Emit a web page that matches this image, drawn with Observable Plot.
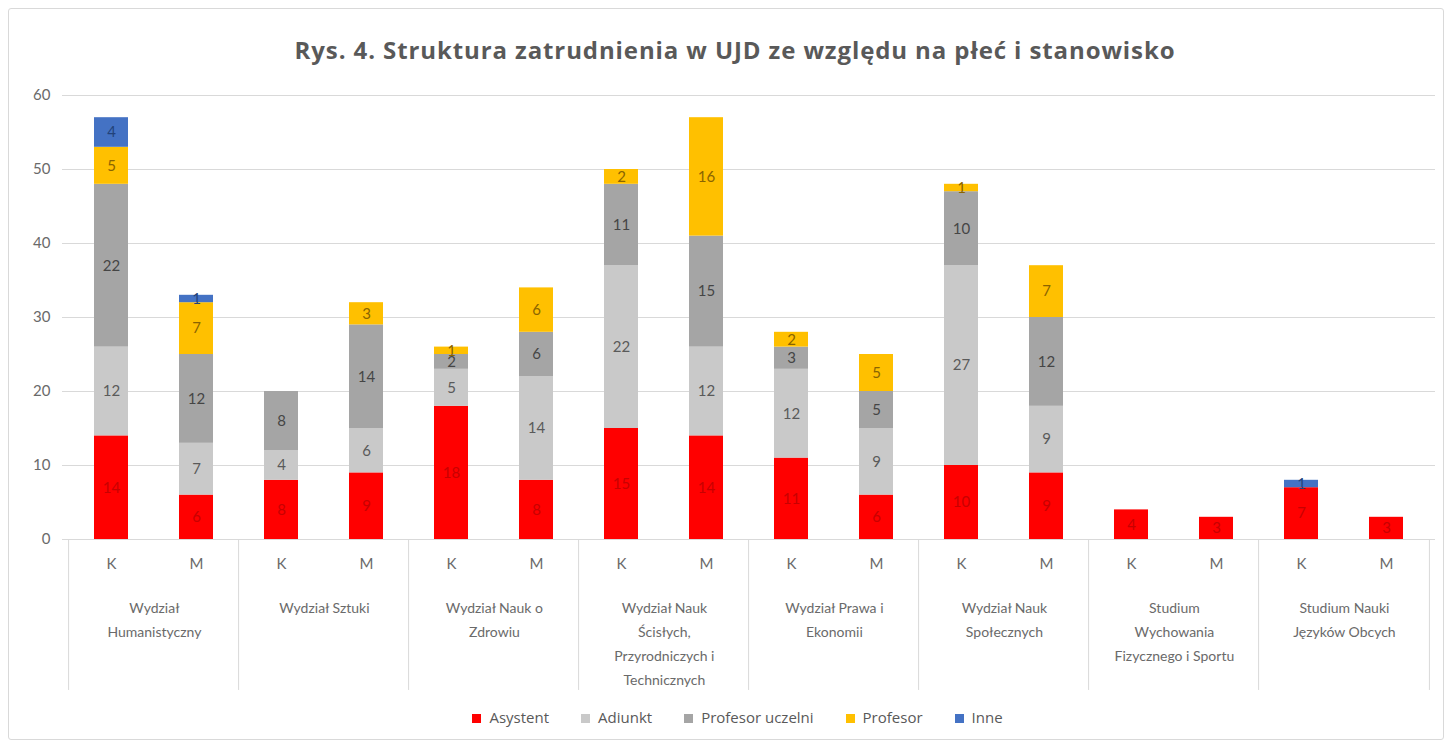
<!DOCTYPE html>
<html><head><meta charset="utf-8">
<script src="https://cdn.jsdelivr.net/npm/d3@7"></script>
<script src="https://cdn.jsdelivr.net/npm/@observablehq/plot@0.6"></script>
<style>
body{margin:0;background:#fff;font-family:Lato,"Open Sans",sans-serif;}
#frame{position:absolute;left:8px;top:8px;width:1434px;height:730px;border:1px solid #d9d9d9;border-radius:3px;}
#title{position:absolute;left:0;top:33px;width:1470px;text-align:center;font-family:"Open Sans",sans-serif;font-weight:bold;font-size:24px;letter-spacing:0.9px;color:#595959;}
#chart{position:absolute;left:0;top:0;}
#legend{position:absolute;left:0;top:707px;width:1475px;text-align:center;font-family:"Open Sans",sans-serif;font-size:15px;color:#595959;}
.item{display:inline-block;margin:0 16px;}
.sw{display:inline-block;width:9px;height:9px;margin-right:8px;}
</style></head><body>
<div id="frame"></div>
<div id="chart"></div>
<div id="title">Rys. 4. Struktura zatrudnienia w UJD ze względu na płeć i stanowisko</div>
<div id="legend"></div>
<script>
const faculties = [
  "Wydział\nHumanistyczny",
  "Wydział Sztuki",
  "Wydział Nauk o\nZdrowiu",
  "Wydział Nauk\nŚcisłych,\nPrzyrodniczych i\nTechnicznych",
  "Wydział Prawa i\nEkonomii",
  "Wydział Nauk\nSpołecznych",
  "Studium\nWychowania\nFizycznego i Sportu",
  "Studium Nauki\nJęzyków Obcych"
];
const sexes = ["K", "M"];
const roles = ["Asystent", "Adiunkt", "Profesor uczelni", "Profesor", "Inne"];
// values per bar: faculty order, K then M
const asystent = [14, 6, 8, 9, 18, 8, 15, 14, 11, 6, 10, 9, 4, 3, 7, 3];
const adiunkt  = [12, 7, 4, 6, 5, 14, 22, 12, 12, 9, 27, 9, 0, 0, 0, 0];
const profUcz  = [22, 12, 8, 14, 2, 6, 11, 15, 3, 5, 10, 12, 0, 0, 0, 0];
const profesor = [5, 7, 0, 3, 1, 6, 2, 16, 2, 5, 1, 7, 0, 0, 0, 0];
const inne     = [4, 1, 0, 0, 0, 0, 0, 0, 0, 0, 0, 0, 0, 0, 1, 0];
const yTicks = [0, 10, 20, 30, 40, 50, 60];

const series = [asystent, adiunkt, profUcz, profesor, inne];
const barColor = {"Asystent": "#ff0000", "Adiunkt": "#c9c9c9", "Profesor uczelni": "#a5a5a5", "Profesor": "#ffc000", "Inne": "#4472c4"};
const labelColor = {"Asystent": "#c80000", "Adiunkt": "#5a5a5a", "Profesor uczelni": "#454545", "Profesor": "#8a6400", "Inne": "#22427a"};

const keys = [];
faculties.forEach((f, i) => sexes.forEach(s => keys.push(i + "|" + s)));
const rows = [];
keys.forEach((k, b) => {
  roles.forEach((r, ri) => {
    const v = series[ri][b];
    if (v > 0) rows.push({key: k, role: r, value: v});
  });
});

const W = 1451, mL = 62, mR = 16;
const step = (W - mL - mR) / keys.length;

const chart = Plot.plot({
  width: W, height: 745,
  marginTop: 95, marginBottom: 206, marginLeft: mL, marginRight: mR,
  style: {fontFamily: "Lato, 'Open Sans', sans-serif", fontSize: "15px", color: "#595959", background: "transparent"},
  x: {domain: keys, paddingInner: 0.6, paddingOuter: 0.3, label: null},
  y: {domain: [0, 60], label: null},
  color: {type: "identity"},
  marks: [
    Plot.gridY(yTicks, {stroke: "#d9d9d9", strokeOpacity: 1}),
    Plot.axisY(yTicks, {tickSize: 0, tickPadding: 12, fill: "#6a6a6a", label: null, fontSize: 15}),
    Plot.axisX({tickSize: 0, tickPadding: 19, tickFormat: d => d.split("|")[1], fill: "#6a6a6a", label: null, fontSize: 15}),
    Plot.ruleX(faculties.map((f, i) => i + "|K"), {x: d => d, y1: 0, y2: -20.4, dx: -step / 2, stroke: "#d9d9d9"}),
    Plot.ruleX([keys[keys.length - 1]], {x: d => d, y1: 0, y2: -20.4, dx: step / 2, stroke: "#d9d9d9"}),
    Plot.text(faculties, {x: (d, i) => i + "|K", dx: step / 2, y: 0, dy: 57, text: d => d, lineAnchor: "top", lineHeight: 1.7, fill: "#6a6a6a", fontSize: 14}),
    Plot.barY(rows, {x: "key", y: "value", fill: d => barColor[d.role]}),
    Plot.text(rows, Plot.stackY({x: "key", y: "value", z: "role", text: d => String(d.value), fill: d => labelColor[d.role], fontSize: 15}))
  ]
});
document.getElementById("chart").appendChild(chart);

const leg = document.getElementById("legend");
roles.forEach(r => {
  const s = document.createElement("span");
  s.className = "item";
  s.innerHTML = `<span class="sw" style="background:${barColor[r]}"></span>${r}`;
  leg.appendChild(s);
});
</script>
</body></html>
